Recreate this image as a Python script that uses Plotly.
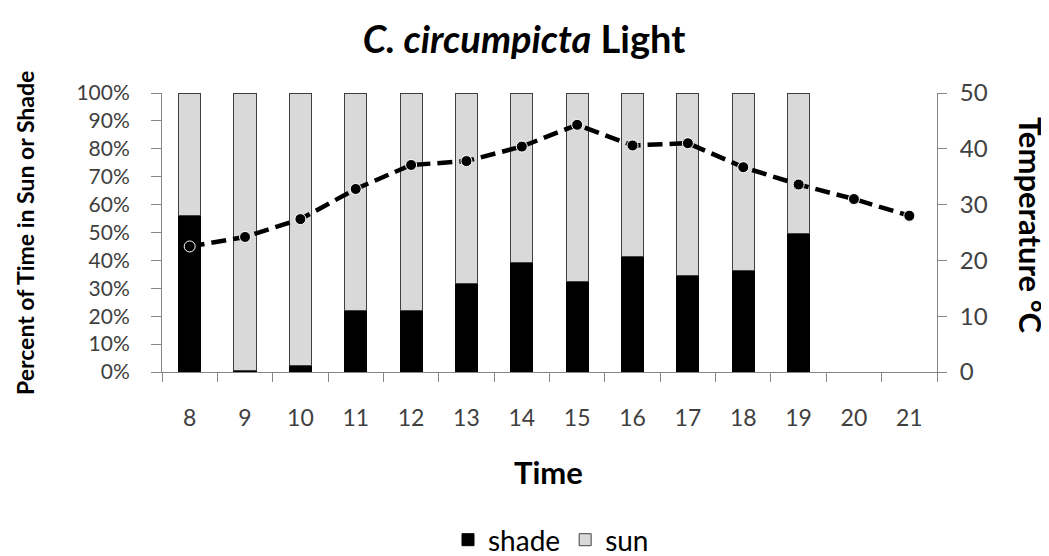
import plotly.graph_objects as go

hours = ["8", "9", "10", "11", "12", "13", "14", "15", "16", "17", "18", "19", "20", "21"]
shade_pct = [56, 0.5, 2.5, 22.2, 22.2, 31.8, 39.2, 32.3, 41.3, 34.5, 36.3, 49.7, None, None]
sun_pct = [44, 99.5, 97.5, 77.8, 77.8, 68.2, 60.8, 67.7, 58.7, 65.5, 63.7, 50.3, None, None]
temperature = [22.5, 24.2, 27.4, 32.8, 37.1, 37.8, 40.4, 44.3, 40.6, 41.0, 36.7, 33.6, 31.0, 28.0]
pct_ticks = [0, 10, 20, 30, 40, 50, 60, 70, 80, 90, 100]
pct_tick_labels = ["0%", "10%", "20%", "30%", "40%", "50%", "60%", "70%", "80%", "90%", "100%"]
temp_ticks = [0, 10, 20, 30, 40, 50]

FONT = "Lato"
AXIS_GRAY = "#868686"
TICK_COLOR = "#404040"

# page has an 8px body margin; figure is sized to fit the 1049x556 window
OFF = 8
W, H = 1049 - OFF, 556 - OFF
PL, PR, PT, PB = 162, 937, 93, 372   # plot-area edges in page pixels

fig = go.Figure()
fig.add_trace(go.Bar(
    x=hours, y=shade_pct, name="shade",
    marker=dict(color="#000000", line=dict(color="#000000", width=1)),
))
fig.add_trace(go.Bar(
    x=hours, y=sun_pct, name="sun",
    marker=dict(color="#d9d9d9", line=dict(color="#404040", width=1)),
))
fig.add_trace(go.Scatter(
    x=hours, y=temperature, yaxis="y2", mode="lines+markers", showlegend=False,
    line=dict(color="#000000", width=4.5, dash="15px,7px"),
    marker=dict(color="#000000", size=11, line=dict(color="#ffffff", width=1)),
))

pw = PR - PL
ph = PB - PT

fig.update_layout(
    width=W, height=H, autosize=False,
    margin=dict(l=PL - OFF, r=W - (PR - OFF), t=PT - OFF, b=H - (PB - OFF), autoexpand=False),
    paper_bgcolor="white", plot_bgcolor="white",
    barmode="stack", bargap=0.6,
    font=dict(family=FONT, color=TICK_COLOR, size=20),
    title=dict(text="<b><i>C. circumpicta</i> Light</b>", x=(524 - OFF) / W, xanchor="center",
               y=1 - (40 - OFF) / H, yanchor="middle", font=dict(family=FONT, size=38, color="#000000")),
    xaxis=dict(
        type="category", categoryorder="array", categoryarray=hours, range=[-0.5, 13.5],
        showline=True, linecolor=AXIS_GRAY, linewidth=1, automargin=False,
        ticks="outside", tickson="boundaries", ticklen=9, tickcolor=AXIS_GRAY,
        ticklabelstandoff=25,
        tickfont=dict(size=23, color=TICK_COLOR), showgrid=False, zeroline=False,
    ),
    yaxis=dict(
        range=[0, 100], tickvals=pct_ticks, ticktext=pct_tick_labels, automargin=False,
        showline=True, linecolor=AXIS_GRAY, linewidth=1,
        ticks="outside", ticklen=10, tickcolor=AXIS_GRAY, showgrid=False, zeroline=False,
        ticklabelstandoff=17,
        tickfont=dict(size=21, color=TICK_COLOR),
    ),
    yaxis2=dict(
        overlaying="y", side="right", range=[0, 50], tickvals=temp_ticks, automargin=False,
        showline=True, linecolor=AXIS_GRAY, linewidth=1,
        ticks="outside", ticklen=9, tickcolor=AXIS_GRAY, showgrid=False, zeroline=False,
        ticklabelstandoff=8,
        tickfont=dict(size=24, color=TICK_COLOR),
    ),
    legend=dict(orientation="h", x=(551 - OFF) / W, xref="container", xanchor="center",
                y=1 - (540 - OFF) / H, yref="container", yanchor="middle",
                font=dict(size=28, color="#000000"), itemwidth=30, traceorder="normal"),
    annotations=[
        dict(text="<b>Percent of Time in Sun or Shade</b>", textangle=-90,
             xref="paper", yref="paper", x=(25 - PL) / pw, y=(PB - 233) / ph,
             xanchor="center", yanchor="middle", showarrow=False,
             font=dict(family=FONT, size=23, color="#000000")),
        dict(text="<b>Temperature °C</b>", textangle=90,
             xref="paper", yref="paper", x=(1031 - PL) / pw, y=(PB - 225) / ph,
             xanchor="center", yanchor="middle", showarrow=False,
             font=dict(family=FONT, size=31, color="#000000")),
        dict(text="<b>Time</b>", xref="paper", yref="paper",
             x=(548 - PL) / pw, y=(PB - 472) / ph,
             xanchor="center", yanchor="middle", showarrow=False,
             font=dict(family=FONT, size=31, color="#000000")),
    ],
)

fig.write_html("out.html")
